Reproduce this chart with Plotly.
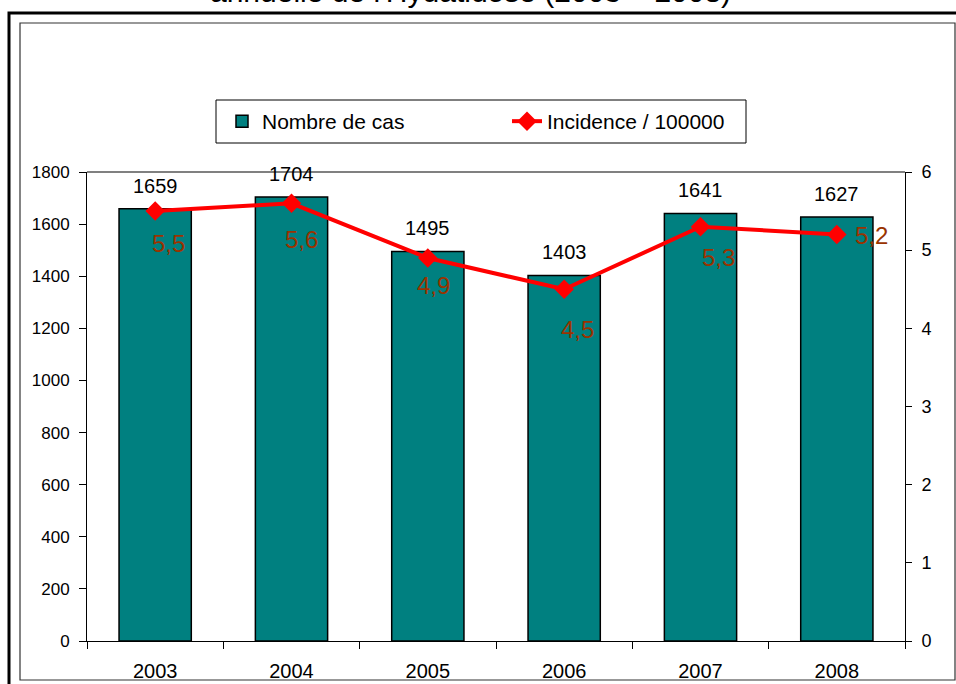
import plotly.graph_objects as go

# données
annees = ["2003", "2004", "2005", "2006", "2007", "2008"]
nombre_cas = [1659, 1704, 1495, 1403, 1641, 1627]
incidence = [5.5, 5.6, 4.9, 4.5, 5.3, 5.2]
incidence_txt = ["5,5", "5,6", "4,9", "4,5", "5,3", "5,2"]

# décalage des étiquettes d'incidence (comme dans Excel)
inc_dx = [13, 10, 6, 13, 18, 35]
inc_dy = [-32, -36, -28, -40, -31, -1]

W, H = 956, 684
ML, MR, MT, MB = 87, W - 905, 172, H - 641
PW, PH = W - ML - MR, H - MT - MB


def px_x(p):
    # pixel de la capture -> coordonnée paper
    return (p - ML) / PW


def px_y(p):
    return (H - MB - p) / PH


FONT = "Liberation Sans, Arial, sans-serif"
TEAL = "#008080"
ROUGE = "#FF0000"
BRUN = "#993300"

fig = go.Figure()

fig.add_trace(go.Bar(
    x=annees, y=nombre_cas, name="Nombre de cas",
    marker=dict(color=TEAL, line=dict(color="black", width=1.5)),
))

fig.add_trace(go.Scatter(
    x=annees, y=incidence, name="Incidence / 100000", yaxis="y2",
    mode="lines+markers",
    line=dict(color=ROUGE, width=4),
    marker=dict(symbol="diamond", size=15, color=ROUGE),
))

annotations = []
for i, v in enumerate(nombre_cas):
    annotations.append(dict(
        x=i, y=v, xref="x", yref="y", text=str(v), showarrow=False,
        yshift=23, font=dict(size=20, color="black"),
    ))
for i, (v, t) in enumerate(zip(incidence, incidence_txt)):
    annotations.append(dict(
        x=i, y=v, xref="x", yref="y2", text=t, showarrow=False,
        xshift=inc_dx[i], yshift=inc_dy[i], font=dict(size=24, color=BRUN),
    ))

# titre (coupé en haut comme sur l'original)
annotations.append(dict(
    x=px_x(470), y=px_y(10), xref="paper", yref="paper",
    xanchor="center", yanchor="bottom", showarrow=False,
    text="Evolution de l'incidence<br>annuelle de l'Hydatidose (2003 – 2008)",
    font=dict(size=30, color="black"),
))

shapes = [
    # cadre extérieur épais
    dict(type="rect", xref="paper", yref="paper",
         x0=px_x(9), x1=px_x(990), y0=px_y(720), y1=px_y(13),
         line=dict(color="black", width=3)),
    # cadre intérieur
    dict(type="rect", xref="paper", yref="paper",
         x0=px_x(20), x1=px_x(955), y0=px_y(680), y1=px_y(23),
         line=dict(color="#333333", width=1.2)),
    # cadre de la légende
    dict(type="rect", xref="paper", yref="paper",
         x0=px_x(216), x1=px_x(746), y0=px_y(143), y1=px_y(100),
         line=dict(color="black", width=1)),
    # bordure haute de la zone de tracé
    dict(type="line", xref="paper", yref="paper",
         x0=0, x1=1, y0=1, y1=1,
         line=dict(color="#808080", width=2)),
]

fig.update_layout(
    width=W, height=H,
    margin=dict(l=ML, r=MR, t=MT, b=MB, autoexpand=False),
    paper_bgcolor="white", plot_bgcolor="white",
    font=dict(family=FONT, size=17, color="black"),
    bargap=0.47,
    showlegend=True,
    legend=dict(
        orientation="h", x=px_x(222), y=px_y(101),
        xanchor="left", yanchor="top",
        bgcolor="rgba(0,0,0,0)", borderwidth=0,
        font=dict(size=21), entrywidth=240,
        traceorder="normal",
    ),
    xaxis=dict(
        type="category", range=[-0.5, 5.5],
        showline=True, linecolor="black", linewidth=1,
        ticks="outside", tickson="boundaries", ticklen=7, tickcolor="black",
        showgrid=False, tickfont=dict(size=20), ticklabelstandoff=12,
        tickangle=0,
    ),
    yaxis=dict(
        range=[0, 1800], dtick=200, showline=True, linecolor="black", linewidth=1,
        ticks="outside", ticklen=7, tickcolor="black", showgrid=False,
        zeroline=False, tickfont=dict(size=17), ticklabelstandoff=6,
    ),
    yaxis2=dict(
        range=[0, 6], dtick=1, overlaying="y", side="right",
        showline=True, linecolor="black", linewidth=1,
        ticks="outside", ticklen=6, tickcolor="black", showgrid=False,
        zeroline=False, tickfont=dict(size=18), ticklabelstandoff=6,
    ),
    annotations=annotations,
    shapes=shapes,
)

# pas de marge autour de la figure dans la page, pas de barre d'outils
fig.write_html(
    "out.html",
    config={"displayModeBar": False},
    post_script="document.body.style.margin='0';",
)
